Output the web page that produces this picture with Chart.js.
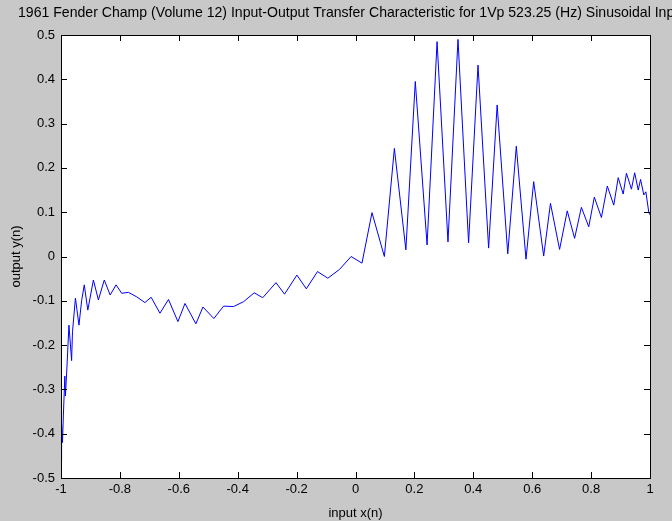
<!DOCTYPE html>
<html>
<head>
<meta charset="utf-8">
<script src="https://cdn.jsdelivr.net/npm/chart.js@4"></script>
<style>
  html, body { margin: 0; padding: 0; background: #c8c8c8; }
  canvas { display: block; }
</style>
</head>
<body>
<canvas id="chart" width="672" height="521"></canvas>
<script>
const TITLE = "1961 Fender Champ (Volume 12) Input-Output Transfer Characteristic for 1Vp 523.25 (Hz) Sinusoidal Input";
const X_LABEL = "input x(n)";
const Y_LABEL = "output y(n)";

// input samples x(n)
const inputX = [
  -1.000, -0.998, -0.995, -0.992, -0.987, -0.985, -0.981, -0.973, -0.964, -0.961,
  -0.951, -0.939, -0.930, -0.921, -0.909, -0.890, -0.873, -0.853, -0.833, -0.813,
  -0.794, -0.771, -0.743, -0.715, -0.694, -0.664, -0.635, -0.603, -0.579, -0.542,
  -0.518, -0.481, -0.448, -0.414, -0.380, -0.344, -0.315, -0.270, -0.241, -0.199,
  -0.167, -0.129, -0.094, -0.054, -0.015, 0.022, 0.056, 0.098, 0.132, 0.171,
  0.203, 0.243, 0.277, 0.314, 0.348, 0.384, 0.416, 0.452, 0.481, 0.517,
  0.546, 0.579, 0.605, 0.639, 0.662, 0.693, 0.719, 0.744, 0.767, 0.792,
  0.811, 0.835, 0.855, 0.877, 0.892, 0.909, 0.920, 0.937, 0.948, 0.960,
  0.968, 0.979, 0.986, 0.996, 1.000
];
// output samples y(n)
const outputY = [
  -0.460, -0.380, -0.420, -0.360, -0.270, -0.315, -0.265, -0.155, -0.235, -0.170,
  -0.094, -0.155, -0.100, -0.064, -0.121, -0.053, -0.098, -0.053, -0.087, -0.064,
  -0.083, -0.081, -0.091, -0.104, -0.092, -0.128, -0.097, -0.147, -0.106, -0.152,
  -0.114, -0.140, -0.112, -0.113, -0.102, -0.082, -0.093, -0.059, -0.085, -0.042,
  -0.073, -0.034, -0.049, -0.029, 0.000, -0.015, 0.099, 0.000, 0.244, 0.015,
  0.395, 0.026, 0.485, 0.033, 0.490, 0.031, 0.432, 0.019, 0.342, 0.006,
  0.249, -0.006, 0.169, 0.001, 0.120, 0.016, 0.103, 0.041, 0.111, 0.067,
  0.134, 0.088, 0.159, 0.116, 0.178, 0.141, 0.188, 0.152, 0.189, 0.150,
  0.174, 0.139, 0.146, 0.099, 0.094
];

const X_MIN = -1, X_MAX = 1, X_STEP = 0.2;
const Y_MIN = -0.5, Y_MAX = 0.5, Y_STEP = 0.1;

const fmt = (v) => String(Number(v.toFixed(1)));

// white axes box, black frame, MATLAB style inward tick marks, title
const matlabAxes = {
  id: "matlabAxes",
  beforeDraw(chart) {
    const { ctx, chartArea: a } = chart;
    ctx.save();
    ctx.fillStyle = "#ffffff";
    ctx.fillRect(a.left, a.top, a.right - a.left, a.bottom - a.top);
    ctx.restore();
  },
  afterDraw(chart) {
    const { ctx, chartArea: a, scales } = chart;
    const len = 6;
    ctx.save();
    ctx.strokeStyle = "#000000";
    ctx.lineWidth = 1;
    ctx.beginPath();
    scales.x.ticks.forEach((t) => {
      const px = Math.round(scales.x.getPixelForValue(t.value)) + 0.5;
      ctx.moveTo(px, a.bottom); ctx.lineTo(px, a.bottom - len);
      ctx.moveTo(px, a.top); ctx.lineTo(px, a.top + len);
    });
    scales.y.ticks.forEach((t) => {
      const py = Math.round(scales.y.getPixelForValue(t.value)) + 0.5;
      ctx.moveTo(a.left, py); ctx.lineTo(a.left + len, py);
      ctx.moveTo(a.right, py); ctx.lineTo(a.right - len, py);
    });
    ctx.stroke();
    ctx.strokeRect(Math.round(a.left) + 0.5, Math.round(a.top) + 0.5,
      Math.round(a.right - a.left), Math.round(a.bottom - a.top));

    ctx.fillStyle = "#000000";
    ctx.font = "15px 'Liberation Sans', Arial, sans-serif";
    ctx.textBaseline = "middle";
    ctx.textAlign = "left";
    ctx.fillText(TITLE, 18, 13, 668);
    ctx.restore();
  },
};

new Chart(document.getElementById("chart"), {
  type: "line",
  data: {
    datasets: [{
      data: inputX.map((x, i) => ({ x, y: outputY[i] })),
      borderColor: "#0000ff",
      borderWidth: 1,
      pointRadius: 0,
      tension: 0,
      fill: false,
    }],
  },
  options: {
    responsive: false,
    devicePixelRatio: 1,
    animation: false,
    layout: { padding: { top: 35, right: 22, left: 0, bottom: 0 } },
    plugins: { legend: { display: false }, tooltip: { enabled: false }, title: { display: false } },
    scales: {
      x: {
        type: "linear", min: X_MIN, max: X_MAX,
        grid: { display: false, drawTicks: false },
        border: { display: false },
        ticks: { stepSize: X_STEP, color: "#000", padding: 4, maxRotation: 0,
          font: { family: "'Liberation Sans', Arial, sans-serif", size: 13 }, callback: fmt },
        title: { display: true, text: X_LABEL, color: "#000", padding: { top: 0, bottom: 0 },
          font: { family: "'Liberation Sans', Arial, sans-serif", size: 13 } },
        afterFit(s) { s.height = 43; },
      },
      y: {
        type: "linear", min: Y_MIN, max: Y_MAX,
        grid: { display: false, drawTicks: false },
        border: { display: false },
        ticks: { stepSize: Y_STEP, color: "#000", padding: 6,
          font: { family: "'Liberation Sans', Arial, sans-serif", size: 13 }, callback: fmt },
        title: { display: true, text: Y_LABEL, color: "#000", padding: { top: 9, bottom: 0 },
          font: { family: "'Liberation Sans', Arial, sans-serif", size: 13 } },
        afterFit(s) { s.width = 61; },
      },
    },
  },
  plugins: [matlabAxes],
});
</script>
</body>
</html>
